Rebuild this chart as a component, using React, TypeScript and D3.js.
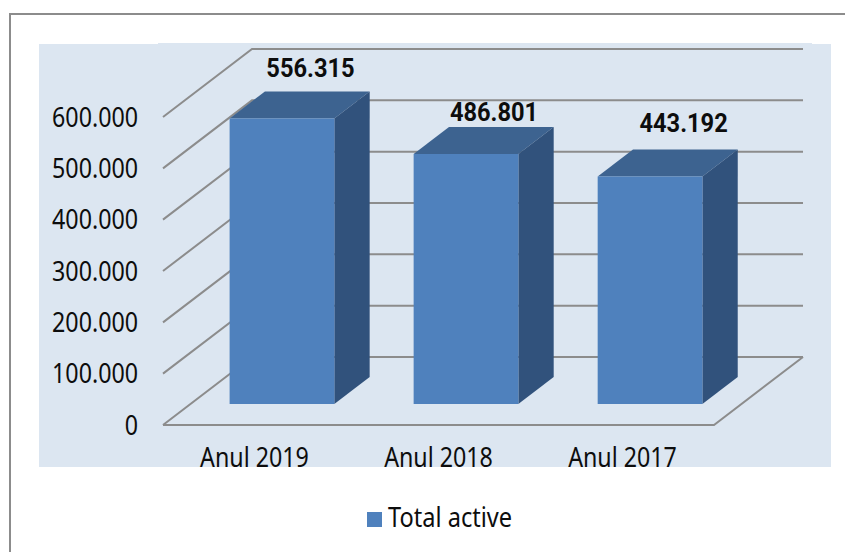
import React from "react";
import * as d3 from "d3";

const categories = ["Anul 2019", "Anul 2018", "Anul 2017"];
const totalActive = [556315, 486801, 443192];
const valueLabels = ["556.315", "486.801", "443.192"];
const yTicks = [0, 100000, 200000, 300000, 400000, 500000, 600000];
const yTickLabels = ["0", "100.000", "200.000", "300.000", "400.000", "500.000", "600.000"];
const legendLabel = "Total active";

const width = 845;
const height = 552;

const colors = {
  panel: "#dce6f1",
  grid: "#8c8c8c",
  front: "#4f81bd",
  top: "#3d6390",
  side: "#31527c",
  text: "#0d0d0d",
};

// oblique projection of the 3D box: z=0 is the front of the floor, z=1 the back wall
const depthX = 89;
const depthY = 68;
const barZ0 = 0.309;
const barZ1 = 0.706;

const x = d3.scaleBand<string>().domain(categories).range([163, 714]).paddingInner(0.431).paddingOuter(0.2125);
const y = d3.scaleLinear().domain([0, 600000]).range([425, 117]);

const project = (px: number, value: number, z: number): [number, number] => [px + z * depthX, y(value) - z * depthY];
const poly = d3.line();

// data labels in the original were hand placed, so each has its own nudge
const labelNudge = [
  { dx: 28.5, dy: -14 },
  { dx: 28, dy: -6 },
  { dx: 33.5, dy: -17 },
];

// the source font is taller and narrower than anything installed, so squeeze it sideways
function Squeezed({ x: tx, y: ty, sx = 0.877, anchor = "start", size = 26.5, bold = false, children }: any) {
  return (
    <text
      transform={`translate(${tx},${ty}) scale(${sx},1)`}
      textAnchor={anchor}
      fontSize={size}
      fontWeight={bold ? 700 : 400}
      fontFamily={bold ? "Roboto, sans-serif" : "'Noto Sans', sans-serif"}
      fill={colors.text}
    >
      {children}
    </text>
  );
}

export default function App() {
  const [xStart, xEnd] = x.range();

  return (
    <svg width={width} height={height} style={{ position: "absolute", left: 0, top: 0 }}>
      <defs>
        <clipPath id="panel-clip">
          <rect x={39} y={43} width={792} height={424} />
        </clipPath>
      </defs>

      <rect width={width} height={height} fill="#ffffff" />
      <path d={`M10,${height}V14H${width}`} fill="none" stroke={colors.grid} strokeWidth={2} />

      <rect x={39} y={44} width={792} height={423} fill={colors.panel} />
      <rect x={158} y={43} width={654} height={1} fill={colors.panel} />

      {/* walls */}
      {yTicks.map((t) => (
        <path
          key={t}
          d={poly([project(xStart, t, 0), project(xStart, t, 1), project(xEnd, t, 1)]) as string}
          fill="none"
          stroke={colors.grid}
          strokeWidth={2}
        />
      ))}
      {/* floor */}
      <path
        d={poly([project(xStart, 0, 0), project(xEnd, 0, 0), project(xEnd, 0, 1)]) as string}
        fill="none"
        stroke={colors.grid}
        strokeWidth={2}
      />

      {/* bars */}
      {categories.map((c, i) => {
        const x0 = x(c) as number;
        const x1 = x0 + x.bandwidth();
        const v = totalActive[i];
        const top = [project(x0, v, barZ0), project(x1, v, barZ0), project(x1, v, barZ1), project(x0, v, barZ1)];
        const side = [project(x1, 0, barZ0), project(x1, v, barZ0), project(x1, v, barZ1), project(x1, 0, barZ1)];
        const front = [project(x0, 0, barZ0), project(x1, 0, barZ0), project(x1, v, barZ0), project(x0, v, barZ0)];
        return (
          <g key={c}>
            <path d={(poly(top as [number, number][]) as string) + "Z"} fill={colors.top} />
            <path d={(poly(side as [number, number][]) as string) + "Z"} fill={colors.side} />
            <path d={(poly(front as [number, number][]) as string) + "Z"} fill={colors.front} />
          </g>
        );
      })}

      {/* y axis labels */}
      {yTicks.map((t, i) => (
        <Squeezed key={t} x={138} y={y(t) + 9.5} anchor="end">
          {yTickLabels[i]}
        </Squeezed>
      ))}

      {/* category labels, cut off by the panel edge as in the source */}
      <g clipPath="url(#panel-clip)">
        {categories.map((c) => (
          <Squeezed key={c} x={(x(c) as number) + x.bandwidth() / 2} y={467} anchor="middle">
            {c}
          </Squeezed>
        ))}
      </g>

      {/* value labels */}
      {categories.map((c, i) => {
        const [lx, ly] = project((x(c) as number) + x.bandwidth() / 2, totalActive[i], barZ1);
        return (
          <Squeezed key={c} x={lx + labelNudge[i].dx - 35.3} y={ly + labelNudge[i].dy} anchor="middle" size={26} sx={0.91} bold>
            {valueLabels[i]}
          </Squeezed>
        );
      })}

      {/* legend */}
      <rect x={367} y={512} width={15} height={15} fill={colors.front} />
      <Squeezed x={388} y={527} sx={0.89}>
        {legendLabel}
      </Squeezed>
    </svg>
  );
}
